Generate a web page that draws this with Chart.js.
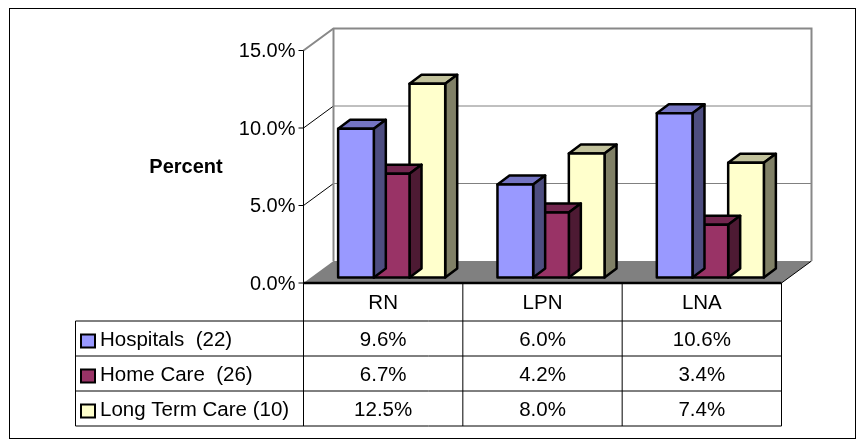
<!DOCTYPE html>
<html>
<head>
<meta charset="utf-8">
<script src="https://cdn.jsdelivr.net/npm/chart.js@4/dist/chart.umd.min.js"></script>
<style>
  html, body { margin: 0; padding: 0; background: #fff; }
  #wrap { width: 865px; height: 446px; }
</style>
</head>
<body>
<div id="wrap"><canvas id="c" width="865" height="446"></canvas></div>
<script>
// Staff categories along the x axis
const categories = ['RN', 'LPN', 'LNA'];
// Series names as listed in the data table
const seriesNames = ['Hospitals  (22)', 'Home Care  (26)', 'Long Term Care (10)'];
// Percent values per series
const hospitals = [9.6, 6.0, 10.6];
const homeCare = [6.7, 4.2, 3.4];
const longTermCare = [12.5, 8.0, 7.4];
// Value axis ticks
const yTicks = [0, 5, 10, 15];
const yTickLabels = ['0.0%', '5.0%', '10.0%', '15.0%'];
const yTitle = 'Percent';

// Face colours: front, top, side
const frontColors = ['#9999FF', '#993366', '#FFFFCC'];
const topColors   = ['#7474C2', '#73264F', '#C2C29C'];
const sideColors  = ['#4D4D80', '#4D1A33', '#808066'];

const FONT = '"Liberation Sans", Arial, sans-serif';
const barDepth = { dx: 12, dy: -9 };      // bar thickness into the page
const frontPlane = { dx: -8.5, dy: 5.5 }; // axis plane relative to bar fronts
const wallDepth = { dx: 30, dy: -22 };    // floor/back wall depth
const rowTop = 321, rowH = 35, tableLeft = 75.5;
const barLine = 2.5;

function poly(ctx, pts, fill, stroke, lw) {
  ctx.beginPath();
  ctx.moveTo(pts[0][0], pts[0][1]);
  for (let i = 1; i < pts.length; i++) ctx.lineTo(pts[i][0], pts[i][1]);
  ctx.closePath();
  if (fill) { ctx.fillStyle = fill; ctx.fill(); }
  if (stroke) { ctx.strokeStyle = stroke; ctx.lineWidth = lw; ctx.stroke(); }
}
function line(ctx, x0, y0, x1, y1, color, lw) {
  ctx.beginPath();
  ctx.moveTo(x0, y0); ctx.lineTo(x1, y1);
  ctx.strokeStyle = color; ctx.lineWidth = lw; ctx.stroke();
}

const scene3d = {
  id: 'scene3d',
  beforeDatasetsDraw(chart) {
    const ctx = chart.ctx, ca = chart.chartArea;
    const ys = chart.scales.y, xs = chart.scales.x;
    const max = yTicks[yTicks.length - 1];
    const fx0 = ca.left + frontPlane.dx, fx1 = ca.right + frontPlane.dx;
    const fy = v => ys.getPixelForValue(v) + frontPlane.dy;
    const bx0 = fx0 + wallDepth.dx, bx1 = fx1 + wallDepth.dx;
    const by = v => fy(v) + wallDepth.dy;
    ctx.save();
    ctx.lineCap = 'butt';

    // outer frame
    ctx.strokeStyle = '#000'; ctx.lineWidth = 1;
    ctx.strokeRect(9.5, 8.5, 846, 430);

    // floor
    poly(ctx, [[fx0, fy(0)], [fx1, fy(0)], [bx1, by(0)], [bx0, by(0)]], '#808080');
    line(ctx, fx1, fy(0), bx1, by(0), '#000', 1);

    // back wall gridlines
    yTicks.forEach(v => {
      if (v > 0 && v < max) line(ctx, bx0, by(v), bx1, by(v), '#808080', 1);
    });
    // side wall gridlines
    yTicks.forEach(v => {
      if (v > 0 && v < max) line(ctx, fx0, fy(v), bx0, by(v), '#000', 1);
    });
    // wall edges
    ctx.lineJoin = 'miter';
    ctx.beginPath();
    ctx.moveTo(fx0, fy(max)); ctx.lineTo(bx0, by(max)); ctx.lineTo(bx1, by(max)); ctx.lineTo(bx1, by(0));
    ctx.strokeStyle = '#888'; ctx.lineWidth = 2; ctx.stroke();
    line(ctx, bx0, by(max), bx0, by(0), '#888', 2);
    // floor front edge
    line(ctx, fx0, fy(0), fx1, fy(0), '#000', 2.5);

    // value axis
    const tableBottom = rowTop + rowH * seriesNames.length;
    line(ctx, fx0, fy(max), fx0, tableBottom, '#000', 1);
    ctx.font = '20px ' + FONT;
    ctx.fillStyle = '#000';
    ctx.textAlign = 'right'; ctx.textBaseline = 'middle';
    yTicks.forEach((v, i) => {
      line(ctx, fx0 - 5, fy(v), fx0, fy(v), '#000', 1);
      ctx.fillText(yTickLabels[i], fx0 - 8, fy(v) + 1);
    });
    ctx.font = 'bold 20px ' + FONT;
    ctx.textAlign = 'center';
    ctx.fillText(yTitle, 186, 167);

    // data table
    const n = categories.length;
    const bounds = [fx0];
    for (let i = 0; i < n - 1; i++) {
      bounds.push((xs.getPixelForValue(i) + xs.getPixelForValue(i + 1)) / 2 + frontPlane.dx);
    }
    bounds.push(fx1);
    for (let i = 1; i <= n; i++) line(ctx, bounds[i], fy(0), bounds[i], tableBottom, '#000', 1);
    line(ctx, tableLeft, rowTop, tableLeft, tableBottom, '#000', 1);
    for (let r = 0; r <= seriesNames.length; r++) {
      line(ctx, tableLeft, rowTop + r * rowH, fx1, rowTop + r * rowH, '#000', 1);
    }
    ctx.font = '20.5px ' + FONT;
    ctx.textAlign = 'center';
    categories.forEach((c, i) => {
      ctx.fillText(c, (bounds[i] + bounds[i + 1]) / 2, (fy(0) + rowTop) / 2 + 1);
    });
    const seriesData = chart.data.datasets.map(d => d.data);
    seriesNames.forEach((name, r) => {
      const cy = rowTop + r * rowH + rowH / 2 + 2;
      // legend key
      ctx.fillStyle = frontColors[r];
      ctx.fillRect(81, cy - 6, 14, 13);
      ctx.strokeStyle = '#000'; ctx.lineWidth = 2;
      ctx.strokeRect(81, cy - 6, 14, 13);
      ctx.fillStyle = '#000';
      ctx.textAlign = 'left';
      ctx.fillText(name, 100, cy);
      ctx.textAlign = 'center';
      seriesData[r].forEach((v, i) => {
        ctx.fillText(v.toFixed(1) + '%', (bounds[i] + bounds[i + 1]) / 2, cy);
      });
    });
    ctx.restore();
  },
  // top and right faces, drawn before each series' front faces
  beforeDatasetDraw(chart, args) {
    const ctx = chart.ctx;
    const k = args.index;
    const { dx, dy } = barDepth;
    ctx.save();
    ctx.lineJoin = 'round';
    args.meta.data.forEach(el => {
      const p = el.getProps(['x', 'y', 'base', 'width'], true);
      const l = p.x - p.width / 2, r = p.x + p.width / 2;
      poly(ctx, [[l, p.y], [r, p.y], [r + dx, p.y + dy], [l + dx, p.y + dy]], topColors[k], '#000', barLine);
      poly(ctx, [[r, p.y], [r + dx, p.y + dy], [r + dx, p.base + dy], [r, p.base]], sideColors[k], '#000', barLine);
    });
    ctx.restore();
  },
  // outline of the front faces
  afterDatasetDraw(chart, args) {
    const ctx = chart.ctx;
    ctx.save();
    ctx.lineJoin = 'round';
    args.meta.data.forEach(el => {
      const p = el.getProps(['x', 'y', 'base', 'width'], true);
      ctx.strokeStyle = '#000'; ctx.lineWidth = barLine;
      ctx.strokeRect(p.x - p.width / 2, p.y, p.width, p.base - p.y);
    });
    ctx.restore();
  }
};

new Chart(document.getElementById('c'), {
  type: 'bar',
  data: {
    labels: categories,
    datasets: [
      { label: seriesNames[0], data: hospitals, backgroundColor: frontColors[0] },
      { label: seriesNames[1], data: homeCare, backgroundColor: frontColors[1] },
      { label: seriesNames[2], data: longTermCare, backgroundColor: frontColors[2] }
    ]
  },
  options: {
    responsive: false,
    devicePixelRatio: 1,
    animation: false,
    layout: { padding: { left: 312, right: 75, top: 45, bottom: 168.5 } },
    datasets: { bar: { borderWidth: 0, categoryPercentage: 0.672, barPercentage: 1 } },
    scales: {
      x: { display: false },
      y: { display: false, min: 0, max: 15 }
    },
    plugins: { legend: { display: false }, tooltip: { enabled: false } }
  },
  plugins: [scene3d]
});
</script>
</body>
</html>
